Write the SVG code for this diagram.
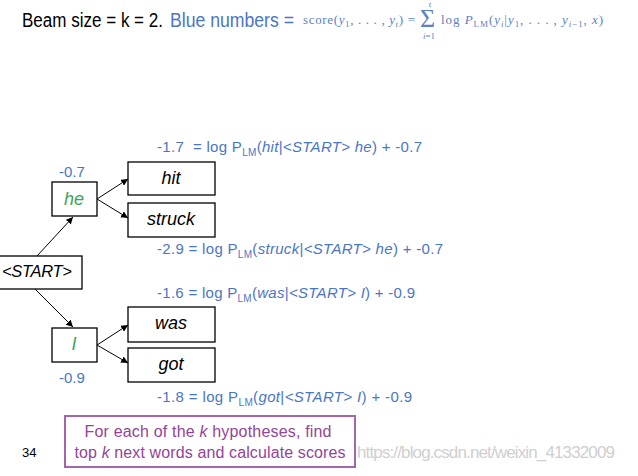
<svg xmlns="http://www.w3.org/2000/svg" width="638" height="476" viewBox="0 0 638 476">
  <style>
    .sans { font-family: "Liberation Sans", Arial, sans-serif; }
    .box { fill: #ffffff; stroke: #000000; stroke-width: 1.3; }
    .word { font-family: "Liberation Sans", Arial, sans-serif; font-size: 18px; font-style: italic; fill: #000000; text-anchor: middle; }
    .green { font-family: "Liberation Sans", Arial, sans-serif; font-size: 18px; font-style: italic; fill: #3aa657; text-anchor: middle; }
    .lbl { font-family: "Liberation Sans", Arial, sans-serif; font-size: 15px; fill: #4a76c6; }
    .sub { font-size: 10px; }
    .it { font-style: italic; }
    .math { font-family: "Liberation Serif", "Times New Roman", serif; font-size: 13px; fill: #5b80c8; }
    .msub { font-size: 9px; }
    .conn { stroke: #000000; stroke-width: 1; fill: none; marker-end: url(#arr); }
    .note { font-family: "Liberation Sans", Arial, sans-serif; font-size: 16px; fill: #94439a; text-anchor: middle; }
  </style>
  <defs>
    <marker id="arr" markerUnits="userSpaceOnUse" markerWidth="7" markerHeight="7" refX="7" refY="3.5" orient="auto">
      <path d="M0,0 L7,3.5 L0,7 z" fill="#000000"/>
    </marker>
  </defs>
  <rect x="0" y="0" width="638" height="476" fill="#ffffff"/>

  <g id="header">
    <text class="sans" x="22" y="27" style="font-size:20px" fill="#000000" textLength="141" lengthAdjust="spacingAndGlyphs">Beam size = k = 2.</text>
    <text class="sans" x="170" y="27" style="font-size:20px" fill="#4a76c6" textLength="124" lengthAdjust="spacingAndGlyphs">Blue numbers =</text>
    <text class="math" x="303" y="24" textLength="112">score(<tspan class="it">y</tspan><tspan class="msub" dy="3">1</tspan><tspan dy="-3">, . . . , </tspan><tspan class="it">y</tspan><tspan class="msub it" dy="3">t</tspan><tspan dy="-3">) =</tspan></text>
    <text class="math" x="420" y="27" style="font-size:26px">Σ</text>
    <text class="math it" x="430" y="7" style="font-size:9px" text-anchor="middle">t</text>
    <text class="math" x="429" y="39" style="font-size:9px" text-anchor="middle"><tspan class="it">i</tspan>=1</text>
    <text class="math" x="441" y="24" textLength="162">log <tspan class="it">P</tspan><tspan class="msub" dy="3">LM</tspan><tspan dy="-3">(</tspan><tspan class="it">y</tspan><tspan class="msub it" dy="3">i</tspan><tspan dy="-3">|</tspan><tspan class="it">y</tspan><tspan class="msub" dy="3">1</tspan><tspan dy="-3">, . . . , </tspan><tspan class="it">y</tspan><tspan class="msub" dy="3"><tspan class="it">i</tspan>−1</tspan><tspan dy="-3">, </tspan><tspan class="it">x</tspan>)</text>
  </g>

  <g id="connectors">
    <line class="conn" x1="37" y1="256" x2="73" y2="217"/>
    <line class="conn" x1="35" y1="289" x2="73" y2="327"/>
    <line class="conn" x1="97" y1="199" x2="128" y2="179"/>
    <line class="conn" x1="97" y1="199" x2="128" y2="218"/>
    <line class="conn" x1="97" y1="345" x2="128" y2="325"/>
    <line class="conn" x1="97" y1="345" x2="128" y2="363"/>
  </g>

  <g id="start">
    <rect class="box" x="-2" y="256" width="84" height="33"/>
    <text class="word" x="37" y="277" style="font-size:16.5px" textLength="70">&lt;START&gt;</text>
  </g>

  <g id="he">
    <rect class="box" x="52" y="182" width="45" height="34"/>
    <text class="green" x="74" y="205">he</text>
    <text class="lbl" x="59" y="177">-0.7</text>
  </g>

  <g id="I">
    <rect class="box" x="52" y="328" width="45" height="34"/>
    <text class="green" x="74" y="350">I</text>
    <text class="lbl" x="59" y="383">-0.9</text>
  </g>

  <g id="hit">
    <rect class="box" x="128" y="162" width="87" height="33"/>
    <text class="word" x="171" y="184">hit</text>
    <text class="lbl" x="157" y="152" textLength="265">-1.7&#160; = log P<tspan class="sub" dy="4">LM</tspan><tspan dy="-4">(</tspan><tspan class="it">hit</tspan>|<tspan class="it">&lt;START&gt; he</tspan>) + -0.7</text>
  </g>

  <g id="struck">
    <rect class="box" x="128" y="203" width="87" height="34"/>
    <text class="word" x="171" y="225">struck</text>
    <text class="lbl" x="157" y="254" textLength="286">-2.9 = log P<tspan class="sub" dy="4">LM</tspan><tspan dy="-4">(</tspan><tspan class="it">struck</tspan>|<tspan class="it">&lt;START&gt; he</tspan>) + -0.7</text>
  </g>

  <g id="was">
    <rect class="box" x="128" y="307" width="87" height="35"/>
    <text class="word" x="171" y="329">was</text>
    <text class="lbl" x="157" y="298" textLength="258">-1.6 = log P<tspan class="sub" dy="4">LM</tspan><tspan dy="-4">(</tspan><tspan class="it">was</tspan>|<tspan class="it">&lt;START&gt; I</tspan>) + -0.9</text>
  </g>

  <g id="got">
    <rect class="box" x="128" y="348" width="87" height="34"/>
    <text class="word" x="171" y="370">got</text>
    <text class="lbl" x="157" y="402" textLength="255">-1.8 = log P<tspan class="sub" dy="4">LM</tspan><tspan dy="-4">(</tspan><tspan class="it">got</tspan>|<tspan class="it">&lt;START&gt; I</tspan>) + -0.9</text>
  </g>

  <g id="note">
    <rect x="65" y="416" width="290" height="51" fill="#ffffff" stroke="#a565ab" stroke-width="2"/>
    <text class="note" x="208" y="437" textLength="247">For each of the <tspan class="it">k</tspan> hypotheses, find</text>
    <text class="note" x="210" y="458" textLength="271">top <tspan class="it">k</tspan> next words and calculate scores</text>
  </g>

  <g id="page">
    <text class="sans" x="22" y="457" style="font-size:13px" fill="#000000">34</text>
    <text class="sans" x="357" y="458" style="font-size:17px" fill="#cfcfcf" textLength="258">https://blog.csdn.net/weixin_41332009</text>
  </g>
</svg>
